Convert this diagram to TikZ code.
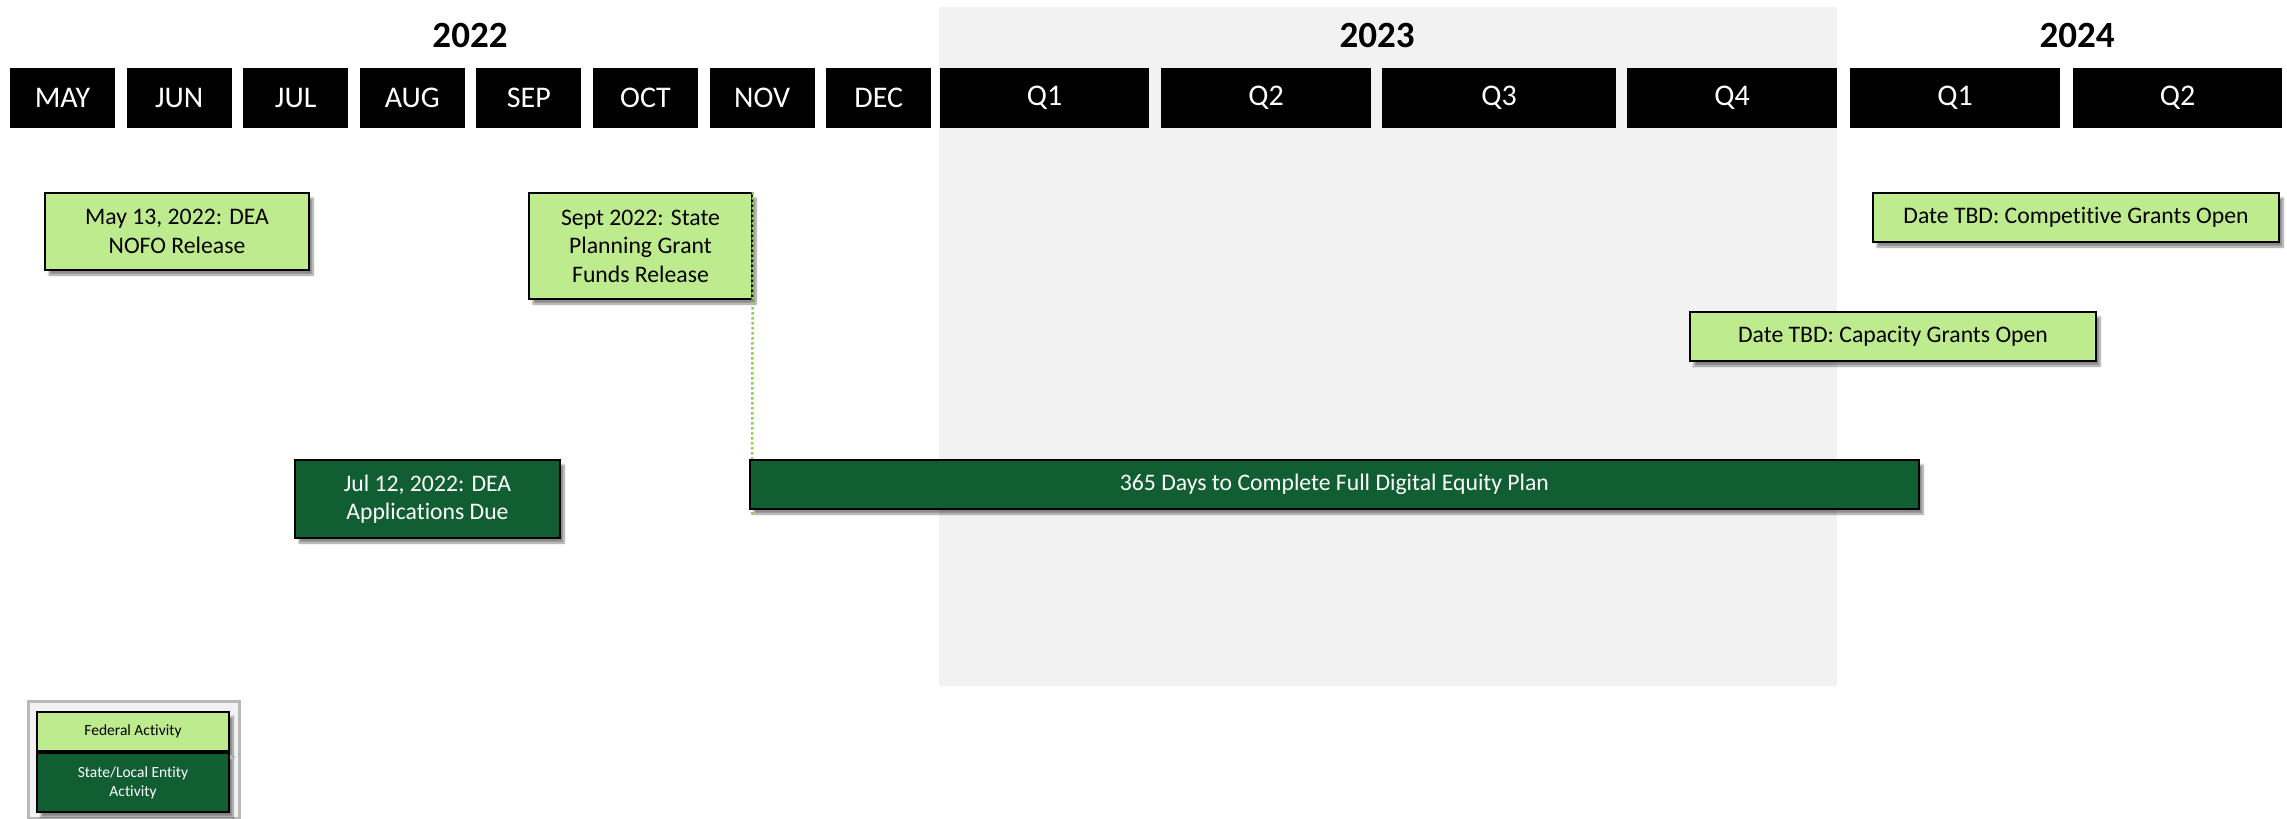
\documentclass[tikz,border=0pt]{standalone}
\usepackage{fontspec}
\setmainfont{Carlito}[Ligatures = NoCommon]
\usepackage{tikz}
\usetikzlibrary{shadows.blur}

\definecolor{fedgreen}{RGB}{190,235,142}
\definecolor{stategreen}{RGB}{17,94,51}
\definecolor{dotgreen}{RGB}{146,208,80}
\definecolor{bandgray}{RGB}{242,242,242}
\definecolor{keyedge}{RGB}{185,185,185}

\begin{document}
\begin{tikzpicture}[x = 1pt, y = -1pt,
        hdrbox/.style = {fill = black, text = white, inner sep = 0pt, minimum height = 60pt,
            font = \fontsize{30}{36}\selectfont},
        yearlbl/.style = {inner sep = 0pt, font = \fontsize{37}{44}\selectfont\bfseries},
        evbox/.style = {draw = black, line width = 1.8pt, inner sep = 0pt, align = center,
            font = \fontsize{23.7}{28.5}\selectfont,
            blur shadow = {shadow xshift = 4pt, shadow yshift = -5pt,
                shadow blur steps = 8, shadow opacity = 45}},
        fedbox/.style = {evbox, fill = fedgreen, text = black},
        statebox/.style = {evbox, fill = stategreen, text = white},
        keybox/.style = {line width = 1.5pt, font = \fontsize{15.5}{19}\selectfont,
            minimum width = 192pt}]

        \useasboundingbox (0,0) rectangle (2287,819);

        % 2023 band
        \fill [bandgray] (939,7) rectangle (1837,686);

        % years
        \node [yearlbl] (y2022) at (470,35) {2022};
        \node [yearlbl] (y2023) at (1377,35) {2023};
        \node [yearlbl] (y2024) at (2077,35) {2024};

        % months of 2022
        \foreach \m [count = \i from 0] in {MAY, JUN, JUL, AUG, SEP, OCT, NOV, DEC}
            \node [hdrbox, minimum width = 105pt] (m\i) at (62.5 + 116.6*\i, 98) {\m};

        % quarters of 2023 and 2024
        \foreach \l/\r/\q [count = \i] in {940/1149/Q1, 1161/1371/Q2, 1382/1616/Q3,
                1627/1837/Q4, 1850/2060/Q1, 2073/2282/Q2}
            \node [hdrbox, minimum width = {\r-\l}] (q\i) at ({(\l+\r)/2}, 98) {\q};

        % activities
        \node [fedbox, minimum width = 264pt, minimum height = 77pt] (nofo) at (177,231.5)
            {May 13, 2022: DEA\\NOFO Release};
        \node [fedbox, minimum width = 223pt, minimum height = 106pt] (sept) at (640.5,246)
            {Sept 2022: State\\Planning Grant\\Funds Release};
        \node [statebox, minimum width = 265pt, minimum height = 78pt] (apps) at (427.5,499)
            {Jul 12, 2022: DEA\\Applications Due};

        \coordinate (dotend) at (752,515);
        \draw [dotgreen, line width = 2.5pt, dash pattern = on 2.5pt off 2.5pt] (sept.north east) -- (dotend);

        \node [statebox, minimum width = 1169pt, minimum height = 49pt] (plan) at (1334.5,484.5)
            {365 Days to Complete Full Digital Equity Plan};
        \node [fedbox, minimum width = 406pt, minimum height = 49pt] (compet) at (2076,217.5)
            {Date TBD: Competitive Grants Open};
        \node [fedbox, minimum width = 406pt, minimum height = 49pt] (capac) at (1893,336.5)
            {Date TBD: Capacity Grants Open};

        % legend
        \node [draw = keyedge, line width = 3pt, fill = bandgray, minimum width = 211pt,
            minimum height = 117pt] (legend) at (133.5,759.5) {};
        \node [fedbox, keybox, minimum height = 39pt] (fedkey) at (133,731.5) {Federal Activity};
        \node [statebox, keybox, minimum height = 59pt, align = center] (statekey) at (133,782.5)
            {State/Local Entity\\Activity};
    \end{tikzpicture}
\end{document}
